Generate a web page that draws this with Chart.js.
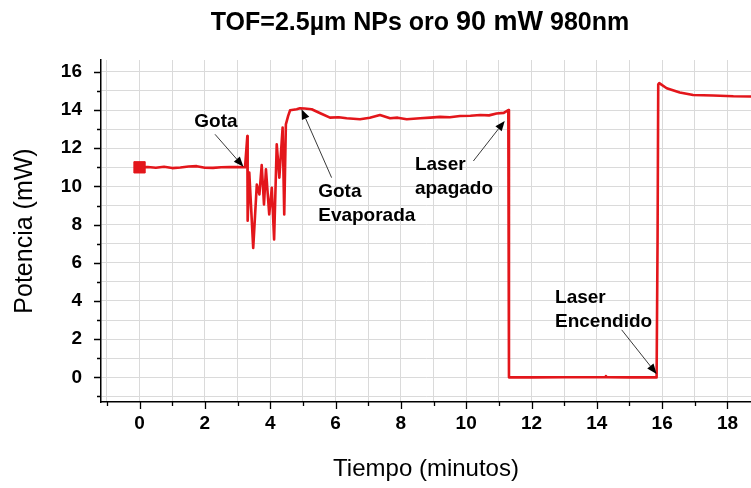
<!DOCTYPE html>
<html>
<head>
<meta charset="utf-8">
<script src="https://cdn.jsdelivr.net/npm/chart.js@4.4.1/dist/chart.umd.min.js"></script>
<style>
  html, body { margin: 0; padding: 0; background: #fff; }
  #chart { display: block; }
</style>
</head>
<body>
<canvas id="chart" width="751" height="488"></canvas>
<script>
"use strict";

/* ==========================================================
   Potencia vs tiempo (laser 980 nm, gota con NPs de oro)
   ========================================================== */
const timeMin = [
  0, 0.25, 0.5, 0.75, 1.0, 1.25, 1.5, 1.75, 2.0, 2.25, 2.5, 2.75, 3.0, 3.23,
  3.30, 3.31, 3.36, 3.48, 3.59, 3.67, 3.74, 3.81, 3.87, 3.97,
  4.05, 4.12, 4.20, 4.28, 4.38, 4.43, 4.48, 4.55, 4.61, 4.81,
  4.91, 5.05, 5.27, 5.55, 5.83, 6.1, 6.34, 6.75, 7.05, 7.36,
  7.67, 7.9, 8.18, 8.59, 8.9, 9.2, 9.5, 9.81, 10.13, 10.43,
  10.7, 10.93, 11.15, 11.29, 11.31,
  12.0, 13.0, 14.26, 14.28, 14.30, 15.0, 15.83, 15.86, 15.88, 15.91,
  16.14, 16.54, 16.95, 17.56, 18.18, 18.72, 19.0
];
const powerMW = [
  11.0, 11.02, 10.98, 11.03, 10.96, 10.99, 11.04, 11.06, 10.98, 10.97, 11.0, 11.02, 11.01, 11.0,
  12.64, 8.2, 10.72, 6.78, 10.1, 9.58, 11.12, 9.06, 10.89, 8.53,
  9.93, 7.22, 12.2, 10.46, 13.08, 8.53, 13.25, 13.69, 13.99, 14.04,
  14.09, 14.08, 14.04, 13.82, 13.6, 13.62, 13.57, 13.52, 13.6, 13.74,
  13.57, 13.6, 13.52, 13.57, 13.6, 13.64, 13.62, 13.69, 13.7, 13.74,
  13.72, 13.82, 13.85, 14.0, 0.0,
  0.0, 0.01, 0.01, 0.07, 0.01, 0.0, 0.0, 7.4, 15.35, 15.41,
  15.14, 14.92, 14.79, 14.76, 14.72, 14.71, 14.7
];
const startTime = [0];
const startPower = [11];

const xTickLabels = [0, 2, 4, 6, 8, 10, 12, 14, 16, 18];
const yTickLabels = [0, 2, 4, 6, 8, 10, 12, 14, 16];

const FONT = "'Liberation Sans', Arial, sans-serif";
const RED = "#e3161b";

// notas con flecha, en unidades de los ejes
const notes = [
  { lines: ["Gota"], at: [2.34, 13.41], align: "center", from: [2.31, 12.73], to: [3.18, 11.03] },
  { lines: ["Gota", "Evaporada"], at: [5.47, 9.74], align: "left", from: [5.88, 10.46], to: [4.96, 14.04] },
  { lines: ["Laser", "apagado"], at: [8.43, 11.15], align: "left", from: [10.22, 11.33], to: [11.18, 13.43] },
  { lines: ["Laser", "Encendido"], at: [12.72, 4.17], align: "left", from: [14.76, 2.49], to: [15.83, 0.18] },
];

const titleParts = [
  { text: "TOF=2.5µm NPs oro ", size: 25 },
  { text: "90 mW", size: 27 },
  { text: " 980nm", size: 25 },
];

const points = timeMin.map((t, i) => ({ x: t, y: powerMW[i] }));
const startPoint = startTime.map((t, i) => ({ x: t, y: startPower[i] }));

// una marca por unidad entera dentro del rango
const unitTicks = (scale) => {
  const ticks = [];
  for (let v = Math.ceil(scale.min); v <= scale.max; v++) ticks.push({ value: v });
  scale.ticks = ticks;
};

const titlePlugin = {
  id: "mixedTitle",
  afterDraw(chart) {
    const ctx = chart.ctx;
    ctx.save();
    let total = 0;
    titleParts.forEach(p => {
      ctx.font = `bold ${p.size}px ${FONT}`;
      p.w = ctx.measureText(p.text).width;
      total += p.w;
    });
    let x = 420 - total / 2;
    ctx.fillStyle = "#000";
    ctx.textBaseline = "alphabetic";
    ctx.textAlign = "left";
    titleParts.forEach(p => {
      ctx.font = `bold ${p.size}px ${FONT}`;
      ctx.fillText(p.text, x, 30);
      x += p.w;
    });
    ctx.restore();
  }
};

// marcas de los ejes: largas en las etiquetas, cortas entre ellas
const tickMarks = {
  id: "tickMarks",
  afterDraw(chart) {
    const { ctx, chartArea, scales } = chart;
    ctx.save();
    ctx.strokeStyle = "#000";
    ctx.lineWidth = 1.3;
    ctx.beginPath();
    scales.x.ticks.forEach(t => {
      const px = Math.round(scales.x.getPixelForValue(t.value)) + 0.5;
      const len = xTickLabels.includes(t.value) ? 7 : 4;
      ctx.moveTo(px, chartArea.bottom);
      ctx.lineTo(px, chartArea.bottom + len);
    });
    scales.y.ticks.forEach(t => {
      const py = Math.round(scales.y.getPixelForValue(t.value)) + 0.5;
      const len = yTickLabels.includes(t.value) ? 7 : 4;
      ctx.moveTo(chartArea.left, py);
      ctx.lineTo(chartArea.left - len, py);
    });
    ctx.stroke();
    ctx.restore();
  }
};

const notesPlugin = {
  id: "notes",
  afterDatasetsDraw(chart) {
    const { ctx, scales } = chart;
    const px = v => scales.x.getPixelForValue(v);
    const py = v => scales.y.getPixelForValue(v);
    ctx.save();
    notes.forEach(n => {
      ctx.font = `bold 19px ${FONT}`;
      ctx.fillStyle = "#000";
      ctx.textAlign = n.align;
      ctx.textBaseline = "middle";
      n.lines.forEach((line, i) => ctx.fillText(line, px(n.at[0]), py(n.at[1]) + i * 24));

      const x0 = px(n.from[0]), y0 = py(n.from[1]);
      const x1 = px(n.to[0]), y1 = py(n.to[1]);
      const ang = Math.atan2(y1 - y0, x1 - x0);
      const head = 10, half = 4;
      const bx = x1 - head * Math.cos(ang), by = y1 - head * Math.sin(ang);
      ctx.strokeStyle = "#222";
      ctx.lineWidth = 0.9;
      ctx.beginPath();
      ctx.moveTo(x0, y0);
      ctx.lineTo(bx, by);
      ctx.stroke();
      ctx.beginPath();
      ctx.moveTo(x1, y1);
      ctx.lineTo(bx + half * Math.sin(ang), by - half * Math.cos(ang));
      ctx.lineTo(bx - half * Math.sin(ang), by + half * Math.cos(ang));
      ctx.closePath();
      ctx.fillStyle = "#000";
      ctx.fill();
    });
    ctx.restore();
  }
};

new Chart(document.getElementById("chart"), {
  type: "line",
  data: {
    datasets: [
      {
        data: startPoint,
        showLine: false,
        pointStyle: "rect",
        pointRadius: 8,
        pointBackgroundColor: RED,
        pointBorderColor: RED,
        order: 0,
      },
      {
        data: points,
        borderColor: RED,
        borderWidth: 2.6,
        borderJoinStyle: "round",
        pointRadius: 0,
        tension: 0,
        order: 1,
      },
    ],
  },
  options: {
    responsive: false,
    animation: false,
    layout: { autoPadding: false, padding: { top: 60, right: 0, left: 0, bottom: 0 } },
    plugins: {
      legend: { display: false },
      tooltip: { enabled: false },
      title: { display: false },
    },
    scales: {
      x: {
        type: "linear",
        min: -1.18,
        max: 18.72,
        afterBuildTicks: unitTicks,
        afterFit: (s) => { s.height = 86; s.paddingLeft = 0; s.paddingRight = 0; },
        grid: { color: "#dadada", lineWidth: 1, drawTicks: false },
        border: { color: "#000", width: 1.5 },
        ticks: {
          autoSkip: false,
          maxRotation: 0,
          padding: 10,
          color: "#000",
          font: { family: FONT, size: 19, weight: "bold" },
          callback: (v) => xTickLabels.includes(v) ? String(v) : "",
        },
        title: {
          display: true,
          text: "Tiempo (minutos)",
          color: "#000",
          font: { family: FONT, size: 24 },
          padding: { top: 0, bottom: 4 },
        },
      },
      y: {
        min: -1.29,
        max: 16.62,
        afterBuildTicks: unitTicks,
        afterFit: (s) => { s.width = 101; s.paddingTop = 0; s.paddingBottom = 0; },
        grid: { color: "#dadada", lineWidth: 1, drawTicks: false },
        border: { color: "#000", width: 1.5 },
        ticks: {
          autoSkip: false,
          padding: 19,
          color: "#000",
          font: { family: FONT, size: 19, weight: "bold" },
          callback: (v) => yTickLabels.includes(v) ? String(v) : "",
        },
        title: {
          display: true,
          text: "Potencia (mW)",
          color: "#000",
          font: { family: FONT, size: 25 },
          padding: { top: 10, bottom: 0 },
        },
      },
    },
  },
  plugins: [titlePlugin, tickMarks, notesPlugin],
});
</script>
</body>
</html>
